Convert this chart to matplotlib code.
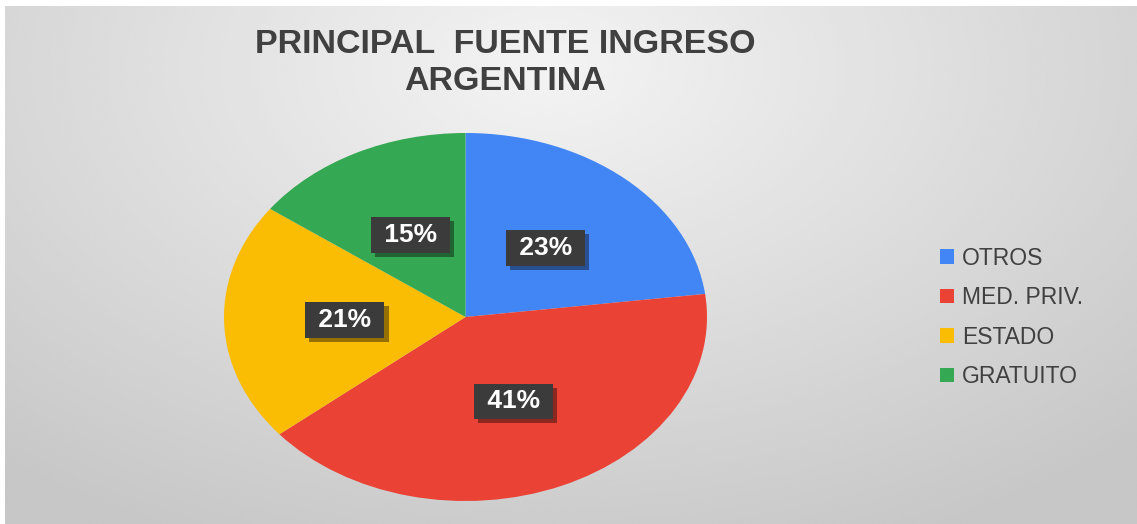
import matplotlib.pyplot as plt
import matplotlib.patheffects as pe
import numpy as np

# data
categories = ["OTROS", "MED. PRIV.", "ESTADO", "GRATUITO"]
shares = [23, 41, 21, 15]
colors = ["#4285F4", "#EA4335", "#FBBC04", "#34A853"]
title = "PRINCIPAL  FUENTE INGRESO\nARGENTINA"

plt.rcParams['font.family'] = ['Liberation Sans', 'DejaVu Sans']

W, H = 1137, 524
fig = plt.figure(figsize=(W / 100, H / 100), dpi=100)
fig.patch.set_facecolor("white")

# gray radial background (chart area leaves a thin white strip top/left)
bg = fig.add_axes([5 / W, 0, (W - 5) / W, (H - 6) / H])
yy, xx = np.mgrid[0:1:300j, 0:1:600j]
d = np.sqrt(((xx - 0.48) / 0.75) ** 2 + ((yy - 0.12) / 1.0) ** 2)
d = np.clip(d, 0, 1)
shade = 0.955 - 0.175 * d
bg.imshow(shade, cmap="gray", vmin=0, vmax=1, aspect="auto",
          extent=(0, 1, 1, 0), interpolation="bicubic")
bg.set_axis_off()

# elliptical pie
cx, cy, rx, ry = 465.5, 317, 241.5, 184
ax = fig.add_axes([(cx - rx) / W, 1 - (cy + ry) / H, 2 * rx / W, 2 * ry / H])
wedges, texts, autotexts = ax.pie(
    shares, colors=colors, startangle=90, counterclock=False,
    autopct="%1.0f%%", pctdistance=0.5, radius=1,
    wedgeprops=dict(linewidth=0))
ax.set_aspect("auto")
ax.set_xlim(-1, 1)
ax.set_ylim(-1, 1)
ax.patch.set_alpha(0)

for t in autotexts:
    t.set_text(" " + t.get_text() + " ")
    t.set_color("white")
    t.set_fontsize(19)
    t.set_fontweight("bold")
    t.set_bbox(dict(boxstyle="square,pad=0.22", fc="#3b3b3b", ec="none"))
    t.get_bbox_patch().set_path_effects(
        [pe.SimplePatchShadow(offset=(3, -3), shadow_rgbFace="black", alpha=0.4),
         pe.Normal()])

fig.text(505 / W, 1 - 63 / H, title, ha="center", va="center",
         fontsize=24.5, fontweight="bold", color="#404040", linespacing=1.22)

fig.legend(wedges, categories, loc="center left",
           bbox_to_anchor=(940 / W, 1 - 317.5 / H), frameon=False,
           fontsize=16.5, handlelength=0.6, handleheight=0.6,
           handletextpad=0.35, labelspacing=0.72, borderpad=0,
           borderaxespad=0, labelcolor="#404040")

fig.savefig("out.png", dpi=100)
